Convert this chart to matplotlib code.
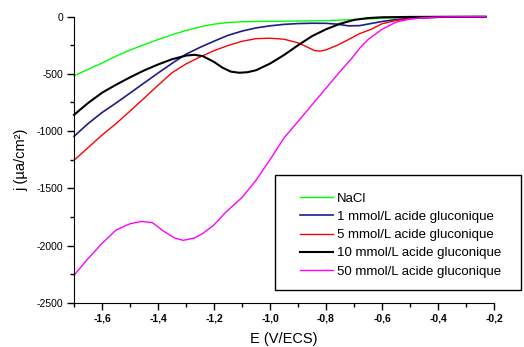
import matplotlib
matplotlib.use("Agg")
import matplotlib.pyplot as plt
from matplotlib.patches import Rectangle
from matplotlib.ticker import MultipleLocator

plt.rcParams['font.family'] = ['Liberation Sans', 'DejaVu Sans']

# ---- data (E in V/ECS, j in µA/cm²) ----
x_nacl = [-1.70, -1.65, -1.60, -1.55, -1.50, -1.45, -1.40, -1.35, -1.30, -1.25, -1.20,
          -1.15, -1.10, -1.00, -0.90, -0.80, -0.70, -0.60, -0.50, -0.40, -0.30, -0.23]
y_nacl = [-517, -460, -405, -345, -292, -245, -200, -158, -120, -89, -65,
          -51, -44, -40, -38, -34, -25, -14, -6, -2, 0, 0]

x_1 = [-1.70, -1.65, -1.60, -1.55, -1.50, -1.45, -1.40, -1.35, -1.30, -1.25, -1.20,
       -1.15, -1.10, -1.05, -1.00, -0.95, -0.90, -0.85, -0.80, -0.76, -0.72, -0.68,
       -0.64, -0.60, -0.55, -0.50, -0.40, -0.30, -0.23]
y_1 = [-1046, -935, -838, -755, -668, -580, -493, -408, -328, -268, -214,
       -163, -126, -98, -80, -67, -60, -57, -58, -65, -80, -78,
       -60, -42, -25, -15, -5, -1, 0]

x_5 = [-1.70, -1.65, -1.60, -1.55, -1.50, -1.45, -1.40, -1.35, -1.30, -1.25, -1.20,
       -1.15, -1.10, -1.05, -1.00, -0.95, -0.90, -0.87, -0.84, -0.82, -0.80, -0.76,
       -0.72, -0.68, -0.64, -0.60, -0.55, -0.50, -0.40, -0.30, -0.23]
y_5 = [-1256, -1145, -1035, -935, -825, -713, -600, -490, -413, -352, -297,
       -252, -215, -192, -188, -197, -228, -262, -297, -300, -290, -250,
       -200, -148, -112, -62, -33, -18, -5, -1, 0]

x_10 = [-1.70, -1.65, -1.60, -1.55, -1.50, -1.45, -1.40, -1.35, -1.30, -1.27, -1.24,
        -1.20, -1.17, -1.14, -1.11, -1.08, -1.05, -1.00, -0.95, -0.90, -0.85, -0.80,
        -0.75, -0.70, -0.65, -0.60, -0.50, -0.40, -0.30, -0.23]
y_10 = [-858, -755, -665, -595, -530, -470, -418, -372, -340, -333, -345,
        -395, -445, -480, -490, -485, -468, -410, -335, -250, -170, -110,
        -62, -28, -12, -5, -2, -1, 0, 0]

x_50 = [-1.70, -1.65, -1.60, -1.55, -1.50, -1.46, -1.42, -1.38, -1.34, -1.31, -1.27,
        -1.24, -1.20, -1.16, -1.10, -1.05, -1.00, -0.95, -0.90, -0.85, -0.80, -0.75,
        -0.71, -0.68, -0.65, -0.60, -0.55, -0.50, -0.45, -0.40, -0.35, -0.30, -0.23]
y_50 = [-2261, -2115, -1982, -1865, -1810, -1790, -1800, -1875, -1935, -1955, -1935,
        -1895, -1820, -1714, -1580, -1430, -1250, -1060, -916, -770, -625, -480,
        -370, -276, -200, -110, -48, -20, -8, -3, -1, 0, 0]

series_labels = ["NaCl", "1 mmol/L acide gluconique", "5 mmol/L acide gluconique",
                 "10 mmol/L acide gluconique", "50 mmol/L acide gluconique"]
series_colors = ["#00ff00", "#1c1c8c", "#ff0000", "#000000", "#ff00ff"]
series_widths = [1.0, 1.2, 1.0, 1.5, 1.0]

x_ticks = [-1.6, -1.4, -1.2, -1.0, -0.8, -0.6, -0.4, -0.2]
x_ticklabels = ["-1,6", "-1,4", "-1,2", "-1,0", "-0,8", "-0,6", "-0,4", "-0,2"]
y_ticks = [0, -500, -1000, -1500, -2000, -2500]
y_ticklabels = ["0", "-500", "-1000", "-1500", "-2000", "-2500"]

W, H = 524, 347
fig = plt.figure(figsize=(W / 100, H / 100), dpi=100)
ax = fig.add_axes([74 / W, 1 - 302.7 / H, (494 - 74) / W, (302.7 - 16.7) / H])

xs = [x_nacl, x_1, x_5, x_10, x_50]
ys = [y_nacl, y_1, y_5, y_10, y_50]
handles = []
for xx, yy, c, lw, lab in zip(xs, ys, series_colors, series_widths, series_labels):
    h, = ax.plot(xx, yy, color=c, lw=lw, label=lab, clip_on=False)
    handles.append(h)

ax.set_xlim(-1.7, -0.2)
ax.set_ylim(-2500, 0)
ax.spines['top'].set_visible(False)
ax.spines['right'].set_visible(False)
ax.set_xticks(x_ticks)
ax.set_xticklabels(x_ticklabels, fontweight='bold', fontsize=7.5)
ax.set_yticks(y_ticks)
ax.set_yticklabels(y_ticklabels, fontsize=7.5)
ax.xaxis.set_minor_locator(MultipleLocator(0.1))
ax.yaxis.set_minor_locator(MultipleLocator(250))
ax.tick_params(which='major', length=5, width=1, direction='out', pad=3)
ax.tick_params(which='minor', length=3, width=1, direction='out')
ax.set_xlabel("E (V/ECS)", fontsize=10.5, labelpad=6)
ax.set_ylabel("j (µa/cm²)", fontsize=10.5, labelpad=6)

# legend frame
fig.patches.append(Rectangle((275 / W, 1 - 290 / H), (521 - 275) / W, (290 - 175) / H,
                             transform=fig.transFigure, fill=True, facecolor='white',
                             edgecolor='black', lw=1.0, zorder=5))
leg = fig.legend(handles=handles, loc='upper left', bbox_to_anchor=(293 / W, 1 - 186 / H),
                 bbox_transform=fig.transFigure, frameon=False, borderpad=0,
                 fontsize=9.5, handlelength=2.5, handletextpad=0.3, labelspacing=0.45)
leg.set_zorder(6)

fig.savefig("out.png", dpi=100)
